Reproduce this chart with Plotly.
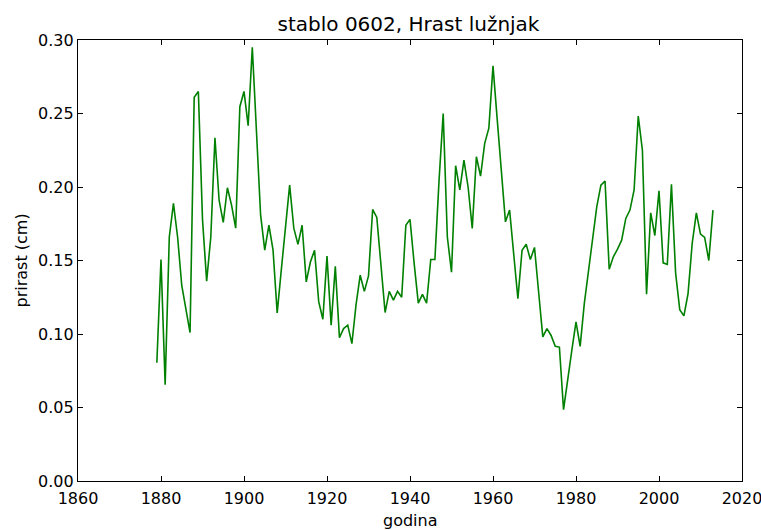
import plotly.graph_objects as go

# annual ring increment, tree 0602
years = list(range(1879, 2014))
prirast = [
    0.0805, 0.1507, 0.0655, 0.166, 0.1888, 0.166, 0.133, 0.118, 0.101, 0.261,
    0.265, 0.178, 0.136, 0.166, 0.2335, 0.191, 0.176, 0.1995, 0.1877, 0.172,
    0.2546, 0.265, 0.2417, 0.295, 0.234, 0.181, 0.157, 0.174, 0.157, 0.1143,
    0.144, 0.1715, 0.2013, 0.172, 0.161, 0.174, 0.1355, 0.149, 0.157, 0.122,
    0.110, 0.153, 0.106, 0.146, 0.0975, 0.1037, 0.106, 0.0934, 0.12, 0.140,
    0.129, 0.1395, 0.1847, 0.1793, 0.1454, 0.1146, 0.129, 0.123, 0.129, 0.125,
    0.174, 0.178, 0.148, 0.121, 0.127, 0.121, 0.1507, 0.1507, 0.2045, 0.250,
    0.166, 0.142, 0.2145, 0.198, 0.2183, 0.200, 0.1718, 0.2206, 0.2074, 0.2297,
    0.240, 0.2824, 0.2465, 0.2115, 0.1763, 0.1843, 0.153, 0.124, 0.157, 0.161,
    0.1507, 0.1589, 0.1284, 0.098, 0.1037, 0.099, 0.0916, 0.0911, 0.0485, 0.0707,
    0.089, 0.1082, 0.0916, 0.1207, 0.1434, 0.166, 0.1865, 0.2013, 0.204, 0.144,
    0.1525, 0.1577, 0.1638, 0.1786, 0.1843, 0.198, 0.2483, 0.2251, 0.127, 0.1824,
    0.167, 0.1974, 0.1484, 0.1473, 0.2018, 0.1416, 0.1166, 0.1123, 0.1275, 0.1616,
    0.1824, 0.168, 0.1657, 0.150, 0.1843,
]
x_ticks = [1860, 1880, 1900, 1920, 1940, 1960, 1980, 2000, 2020]
y_ticks = [0.0, 0.05, 0.10, 0.15, 0.20, 0.25, 0.30]

font = "DejaVu Sans, sans-serif"
W, H = 761, 530
ML, MR, MT, MB = 78, 19, 40, 49
plot_w = W - ML - MR
plot_h = H - MT - MB

fig = go.Figure()
fig.add_trace(
    go.Scatter(
        x=years,
        y=prirast,
        mode="lines",
        line=dict(color="#008000", width=1.6),
        showlegend=False,
    )
)

axis_style = dict(
    automargin=False,
    showgrid=False,
    zeroline=False,
    showline=True,
    linecolor="black",
    linewidth=1.2,
    mirror="allticks",
    ticks="inside",
    ticklen=5,
    tickcolor="black",
    ticklabeloverflow="allow",
    tickfont=dict(family=font, size=16, color="black"),
)

fig.update_layout(
    width=W,
    height=H,
    margin=dict(l=ML, r=MR, t=MT, b=MB),
    paper_bgcolor="white",
    plot_bgcolor="white",
    font=dict(family=font, color="black"),
    title=dict(
        text="stablo 0602, Hrast lužnjak",
        x=408.5 / W, xanchor="center",
        y=1 - 24 / H, yanchor="middle",
        yref="container",
        font=dict(family=font, size=20, color="black"),
    ),
    xaxis=dict(range=[1860, 2020], tickvals=x_ticks, ticklabelstandoff=3, **axis_style),
    yaxis=dict(range=[0, 0.30], tickvals=y_ticks, tickformat=".2f", **axis_style),
)

# axis titles placed as annotations so their positions stay fixed
fig.add_annotation(
    text="godina", xref="paper", yref="paper",
    x=0.5, y=-(520 - (H - MB)) / plot_h, xanchor="center", yanchor="middle",
    showarrow=False, font=dict(family=font, size=16, color="black"),
)
fig.add_annotation(
    text="prirast (cm)", xref="paper", yref="paper", textangle=-90,
    x=-(ML - 21) / plot_w, y=0.5, xanchor="center", yanchor="middle",
    showarrow=False, font=dict(family=font, size=16, color="black"),
)

fig.write_html(
    "out.html",
    config={"displayModeBar": False},
    post_script="document.body.style.margin='0';",
)
